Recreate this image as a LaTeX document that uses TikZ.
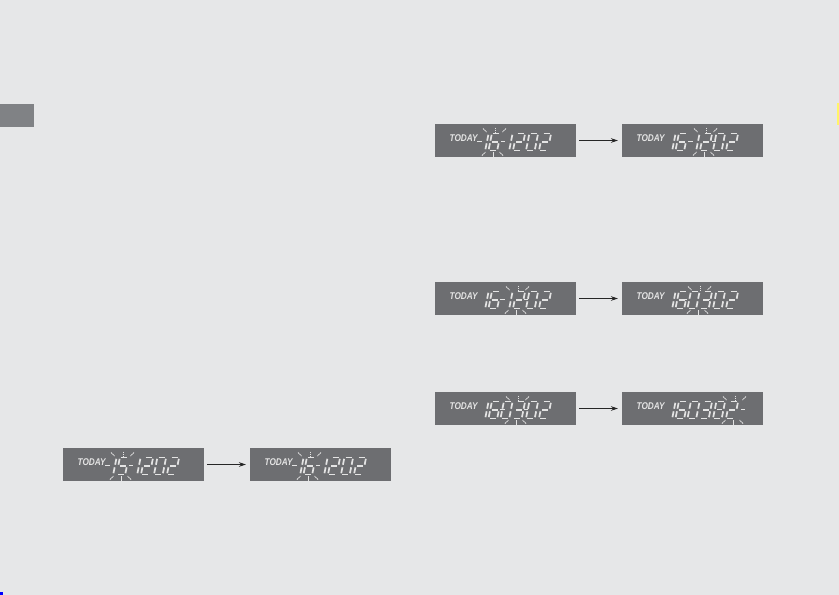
\documentclass[tikz,border=0pt]{standalone}
\usepackage{fontspec}
\newfontfamily\todayfont{Liberation Sans}
\usetikzlibrary{arrows.meta}
\definecolor{bgcol}{HTML}{E6E7E8}
\definecolor{boxcol}{HTML}{6D6E71}
\definecolor{segcol}{HTML}{E4E4E4}
\definecolor{tabcol}{HTML}{808285}
\definecolor{yelcol}{HTML}{FFF568}
\tikzset{
  seg/.style={line width=1.7pt, draw=segcol},
  ray/.style={line width=0.8pt, draw=segcol, dash pattern=on 1.6pt off 0.6pt},
  lcdbox/.style={fill=boxcol, draw=none, minimum width=141pt, minimum height=33pt, inner sep=0pt, outer sep=0pt},
  todaytxt/.style={text=segcol, font=\todayfont\bfseries\itshape\fontsize{9.8}{9.8}\selectfont, inner sep=0pt, xscale=0.84},
  arr/.style={line width=0.8pt, draw=black!85, -{Stealth[length=7pt,width=4.5pt]}, shorten <=3pt, shorten >=4pt}
}
\newcommand\sgA{\draw[seg] (1.3,17)--(7.4,17);}
\newcommand\sgB{\draw[seg] (8.7,15.7)--(8.7,9.8);}
\newcommand\sgC{\draw[seg] (8.7,7.2)--(8.7,1.3);}
\newcommand\sgD{\draw[seg] (1.3,0)--(7.4,0);}
\newcommand\sgE{\draw[seg] (0,1.3)--(0,7.2);}
\newcommand\sgF{\draw[seg] (0,9.8)--(0,15.7);}
\newcommand\sgG{\draw[seg] (1.3,8.5)--(7.4,8.5);}
\newcommand\lcdDigit[3]{%
  \begin{scope}[shift={(#1,#2)}, xslant=0.2, yscale=-1]
    \ifcase#3 \sgA\sgB\sgC\sgD\sgE\sgF
    \or \sgB\sgC
    \or \sgA\sgB\sgG\sgE\sgD
    \or \sgA\sgB\sgG\sgC\sgD
    \or \sgF\sgG\sgB\sgC
    \or \sgA\sgF\sgG\sgC\sgD
    \or \sgA\sgF\sgG\sgE\sgC\sgD
    \or \sgA\sgB\sgC
    \or \sgA\sgB\sgC\sgD\sgE\sgF\sgG
    \or \sgA\sgB\sgC\sgD\sgF\sgG
    \fi
  \end{scope}}
% name, x, y, six digits
\newcommand\lcdPanel[9]{%
  \begin{scope}[shift={(#2,#3)}]
    \node[lcdbox, anchor=north west] (#1) at (0,0) {};
    \node[todaytxt, anchor=west] (#1t) at (14.5,14) {TODAY};
    \lcdDigit{41.5}{26.5}{#4}
    \lcdDigit{53.5}{26.5}{#5}
    \lcdDigit{65.5}{26.5}{#6}
    \lcdDigit{78}{26.5}{#7}
    \lcdDigit{91}{26.5}{#8}
    \lcdDigit{104}{26.5}{#9}
  \end{scope}}
% blink rays: x, y, centre offset
\newcommand\lcdRays[3]{%
  \begin{scope}[shift={(#1,#2)}]
    \draw[ray] (#3-14,17.5)--(#3-9.5,17.5);
    \draw[ray] (#3+10,17.5)--(#3+14,17.5);
    \draw[ray] (#3+4,3.5)--(#3+4,8.5);
    \draw[ray] (#3+2,28)--(#3+2,33);
    \draw[ray] (#3-8,4.5)--(#3-4.5,8);
    \draw[ray] (#3+15,4.5)--(#3+11.5,8);
    \draw[ray] (#3-9,31.5)--(#3-5.5,28);
    \draw[ray] (#3+12,31.5)--(#3+8.5,28);
  \end{scope}}
\begin{document}
\begin{tikzpicture}[x=1pt, y=-1pt]
  \useasboundingbox (0,0) rectangle (839,595);
  \fill[bgcol] (0,0) rectangle (839,595);
  \fill[tabcol] (0,104) rectangle (34,127);
  \fill[yelcol] (837,103) rectangle (839,125);
  \fill[blue] (0,592) rectangle (3,595);
  % row A
  \lcdPanel{a1}{435}{124}{1}{6}{1}{2}{0}{2}
  \lcdRays{435}{124}{56}
  \lcdPanel{a2}{622}{124}{1}{6}{1}{2}{0}{2}
  \lcdRays{622}{124}{80}
  \draw[arr] (a1.east) -- (a2.west);
  % row B
  \lcdPanel{b1}{435}{282}{1}{6}{1}{2}{0}{2}
  \lcdRays{435}{282}{79}
  \lcdPanel{b2}{622}{282}{1}{6}{0}{3}{0}{2}
  \lcdRays{622}{282}{74}
  \draw[arr] (b1.east) -- (b2.west);
  % row C
  \lcdPanel{c1}{435}{392}{1}{6}{0}{3}{0}{2}
  \lcdRays{435}{392}{79}
  \lcdPanel{c2}{622}{392}{1}{6}{0}{3}{0}{2}
  \lcdRays{622}{392}{109}
  \draw[arr] (c1.east) -- (c2.west);
  % row D
  \lcdPanel{d1}{63}{448}{1}{5}{1}{2}{0}{2}
  \lcdRays{63}{448}{56}
  \lcdPanel{d2}{250}{448}{1}{6}{1}{2}{0}{2}
  \lcdRays{250}{448}{56}
  \draw[arr] (d1.east) -- (d2.west);
\end{tikzpicture}
\end{document}
